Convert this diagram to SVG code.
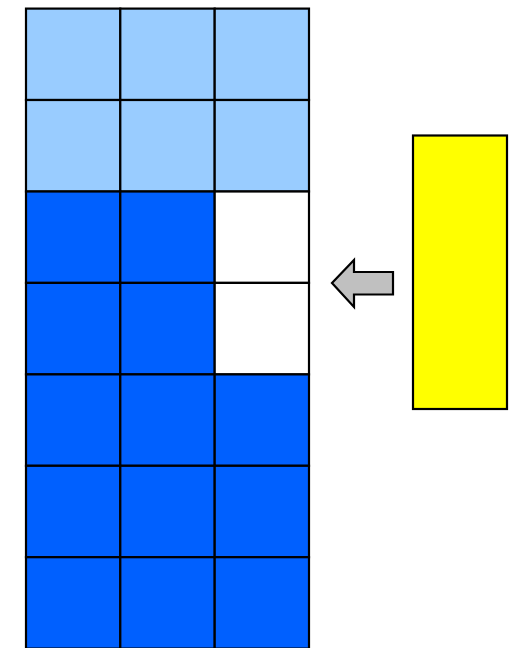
<svg xmlns="http://www.w3.org/2000/svg" width="513" height="648" viewBox="0 0 513 648">
<style>
.c{stroke:#000;stroke-width:2.2}
.l{fill:#99CCFF}
.d{fill:#0060FF}
.w{fill:#FFFFFF}
</style>
<rect width="513" height="648" fill="#fff"/>
<g id="grid">
<rect class="c l" x="26" y="8.6" width="94.3" height="91.4"/>
<rect class="c l" x="120.3" y="8.6" width="94.4" height="91.4"/>
<rect class="c l" x="214.7" y="8.6" width="94.3" height="91.4"/>
<rect class="c l" x="26" y="100" width="94.3" height="91.5"/>
<rect class="c l" x="120.3" y="100" width="94.4" height="91.5"/>
<rect class="c l" x="214.7" y="100" width="94.3" height="91.5"/>
<rect class="c d" x="26" y="191.5" width="94.3" height="91.4"/>
<rect class="c d" x="120.3" y="191.5" width="94.4" height="91.4"/>
<rect class="c w" x="214.7" y="191.5" width="94.3" height="91.4"/>
<rect class="c d" x="26" y="282.9" width="94.3" height="91.5"/>
<rect class="c d" x="120.3" y="282.9" width="94.4" height="91.5"/>
<rect class="c w" x="214.7" y="282.9" width="94.3" height="91.5"/>
<rect class="c d" x="26" y="374.4" width="94.3" height="91.4"/>
<rect class="c d" x="120.3" y="374.4" width="94.4" height="91.4"/>
<rect class="c d" x="214.7" y="374.4" width="94.3" height="91.4"/>
<rect class="c d" x="26" y="465.8" width="94.3" height="91.4"/>
<rect class="c d" x="120.3" y="465.8" width="94.4" height="91.4"/>
<rect class="c d" x="214.7" y="465.8" width="94.3" height="91.4"/>
<rect class="c d" x="26" y="557.2" width="94.3" height="91.4"/>
<rect class="c d" x="120.3" y="557.2" width="94.4" height="91.4"/>
<rect class="c d" x="214.7" y="557.2" width="94.3" height="91.4"/>
</g>
<g id="yellow">
<rect class="c" x="413" y="135.5" width="94" height="273.5" fill="#FFFF00"/>
</g>
<g id="connectors">
<polygon points="332,283 354,260 354,272 393,272 393,294.5 354,294.5 354,307" fill="#C0C0C0" stroke="#000" stroke-width="2.2" stroke-linejoin="miter"/>
</g>
</svg>
